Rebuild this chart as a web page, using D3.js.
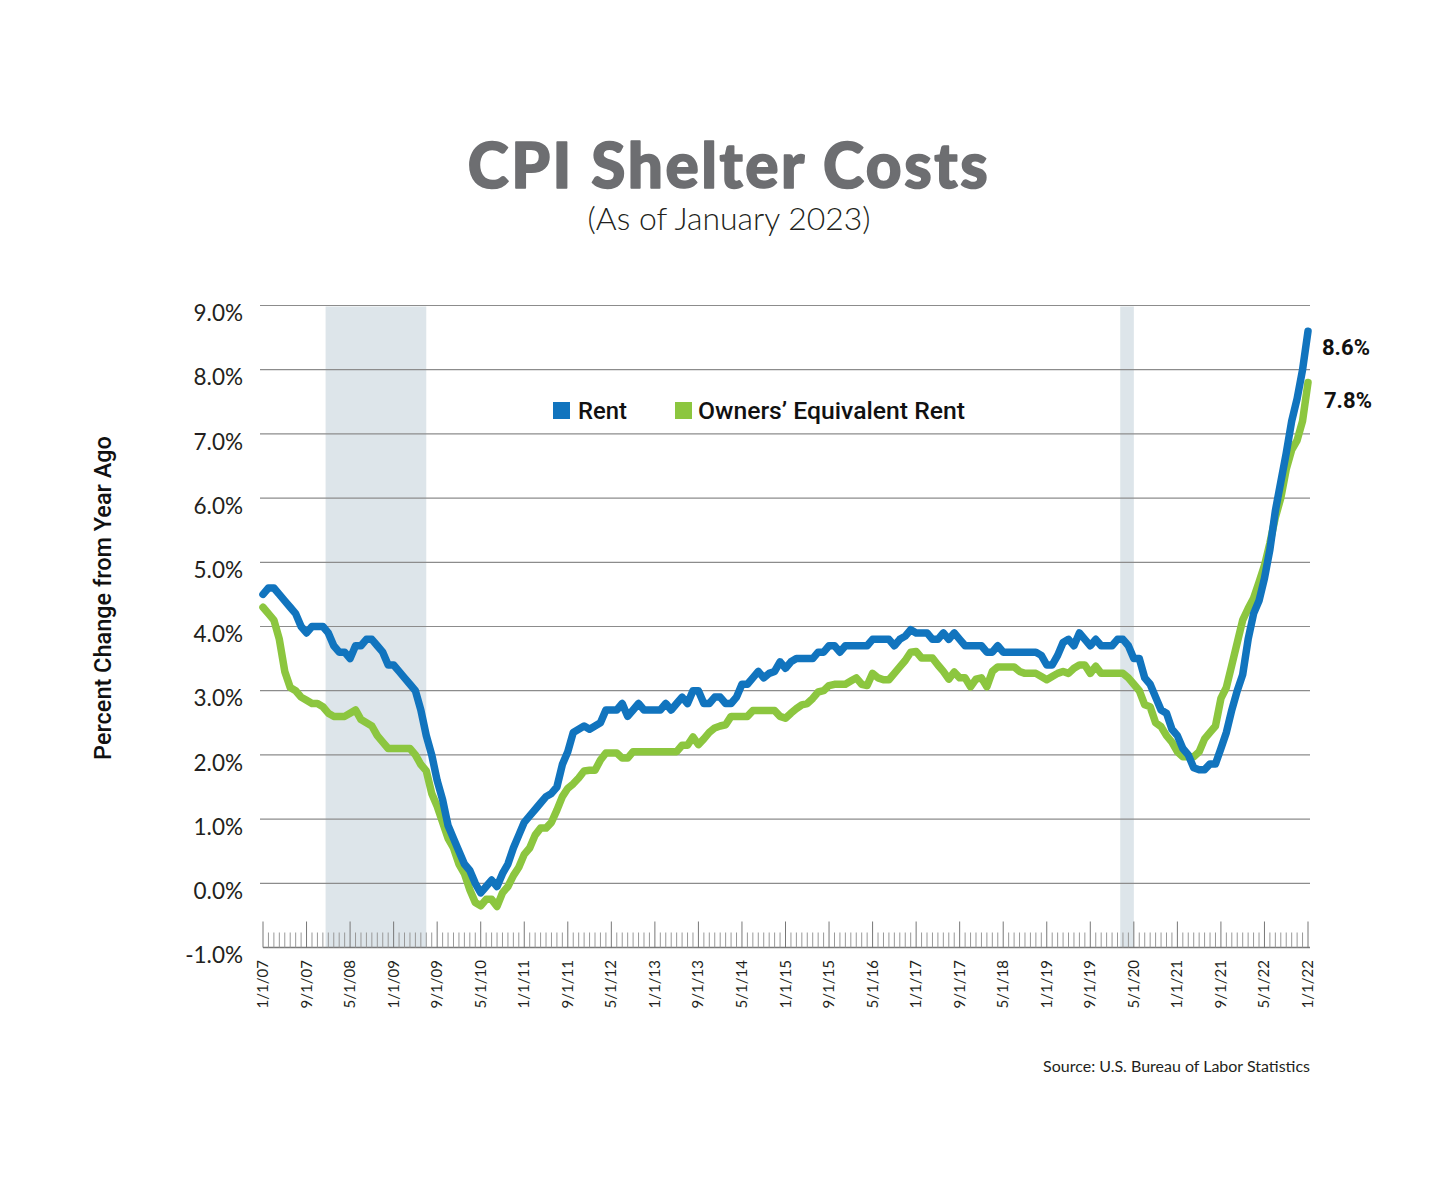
<!DOCTYPE html>
<html>
<head>
<meta charset="utf-8">
<script src="https://cdn.jsdelivr.net/npm/d3@7"></script>
<style>
  html, body { margin: 0; padding: 0; background: #fff; }
  svg { display: block; }
</style>
</head>
<body>
<svg id="chart" width="1450" height="1200"></svg>
<script>
// ---------------- DATA ----------------
const seriesNames = ["Rent", "Owners\u2019 Equivalent Rent"];

// Monthly YoY % change, Jan 2007 .. Jan 2023 (193 points)
const rent = [
  4.5, 4.6, 4.6, 4.5, 4.4, 4.3, 4.2, 4.0, 3.9, 4.0,
  4.0, 4.0, 3.9, 3.7, 3.6, 3.6, 3.5, 3.7, 3.7, 3.8,
  3.8, 3.7, 3.6, 3.4, 3.4, 3.3, 3.2, 3.1, 3.0, 2.7,
  2.3, 2.0, 1.6, 1.3, 0.9, 0.7, 0.5, 0.3, 0.2, 0.0,
  -0.15, -0.05, 0.05, -0.05, 0.15, 0.3, 0.55, 0.75, 0.95, 1.05,
  1.15, 1.25, 1.35, 1.4, 1.5, 1.85, 2.05, 2.35, 2.4, 2.45,
  2.4, 2.45, 2.5, 2.7, 2.7, 2.7, 2.8, 2.6, 2.7, 2.8,
  2.7, 2.7, 2.7, 2.7, 2.8, 2.7, 2.8, 2.9, 2.8, 3.0,
  3.0, 2.8, 2.8, 2.9, 2.9, 2.8, 2.8, 2.9, 3.1, 3.1,
  3.2, 3.3, 3.2, 3.27, 3.3, 3.45, 3.35, 3.45, 3.5, 3.5,
  3.5, 3.5, 3.6, 3.6, 3.7, 3.7, 3.6, 3.7, 3.7, 3.7,
  3.7, 3.7, 3.8, 3.8, 3.8, 3.8, 3.7, 3.8, 3.85, 3.95,
  3.9, 3.9, 3.9, 3.8, 3.8, 3.9, 3.8, 3.9, 3.8, 3.7,
  3.7, 3.7, 3.7, 3.6, 3.6, 3.7, 3.6, 3.6, 3.6, 3.6,
  3.6, 3.6, 3.6, 3.55, 3.4, 3.4, 3.55, 3.75, 3.8, 3.7,
  3.9, 3.8, 3.7, 3.8, 3.7, 3.7, 3.7, 3.8, 3.8, 3.7,
  3.5, 3.5, 3.2, 3.1, 2.9, 2.7, 2.65, 2.4, 2.3, 2.1,
  2.0, 1.8, 1.77, 1.77, 1.86, 1.86, 2.1, 2.35, 2.7, 3.0,
  3.25, 3.8, 4.2, 4.4, 4.75, 5.2, 5.8, 6.25, 6.7, 7.2,
  7.55, 8.0, 8.6
];

const oer = [
  4.3, 4.2, 4.1, 3.8, 3.3, 3.05, 3.0, 2.9, 2.85, 2.8,
  2.8, 2.75, 2.65, 2.6, 2.6, 2.6, 2.65, 2.7, 2.55, 2.5,
  2.45, 2.3, 2.2, 2.1, 2.1, 2.1, 2.1, 2.1, 2.0, 1.85,
  1.75, 1.4, 1.2, 0.95, 0.7, 0.55, 0.3, 0.15, -0.1, -0.3,
  -0.35, -0.25, -0.25, -0.36, -0.15, -0.05, 0.12, 0.25, 0.45, 0.55,
  0.75, 0.86, 0.86, 0.95, 1.14, 1.35, 1.48, 1.55, 1.64, 1.75,
  1.76, 1.76, 1.92, 2.03, 2.03, 2.03, 1.95, 1.95, 2.05, 2.05,
  2.05, 2.05, 2.05, 2.05, 2.05, 2.05, 2.05, 2.15, 2.15, 2.28,
  2.16, 2.25, 2.35, 2.42, 2.45, 2.47, 2.6, 2.6, 2.6, 2.6,
  2.69, 2.69, 2.69, 2.69, 2.69, 2.6, 2.57, 2.65, 2.72, 2.78,
  2.8, 2.88, 2.98, 3.0, 3.08, 3.1, 3.1, 3.1, 3.15, 3.2,
  3.1, 3.08, 3.27, 3.2, 3.17, 3.17, 3.27, 3.37, 3.47, 3.6,
  3.61, 3.51, 3.51, 3.51, 3.4, 3.3, 3.18, 3.29, 3.2, 3.2,
  3.06, 3.18, 3.2, 3.06, 3.3, 3.37, 3.37, 3.37, 3.37, 3.3,
  3.27, 3.27, 3.27, 3.22, 3.17, 3.22, 3.27, 3.3, 3.27, 3.35,
  3.4, 3.4, 3.27, 3.38, 3.27, 3.27, 3.27, 3.27, 3.27, 3.2,
  3.1, 3.0, 2.78, 2.75, 2.5, 2.44, 2.3, 2.2, 2.05, 1.97,
  1.97, 1.97, 2.05, 2.25, 2.35, 2.45, 2.88, 3.05, 3.4, 3.75,
  4.1, 4.28, 4.44, 4.69, 4.95, 5.3, 5.7, 6.0, 6.45, 6.75,
  6.9, 7.2, 7.8
];

// x-axis labels (one every 8 months, as printed on the original)
const xTickLabels = [
  "1/1/07","9/1/07","5/1/08","1/1/09","9/1/09","5/1/10","1/1/11","9/1/11",
  "5/1/12","1/1/13","9/1/13","5/1/14","1/1/15","9/1/15","5/1/16","1/1/17",
  "9/1/17","5/1/18","1/1/19","9/1/19","5/1/20","1/1/21","9/1/21","5/1/22","1/1/22"
];
const yTicks = [-1, 0, 1, 2, 3, 4, 5, 6, 7, 8, 9];

// Recessions, as month indexes from Jan 2007 (Dec 2007 - Jun 2009, Feb 2020 - Apr 2020)
const recessions = [[11, 29], [157, 159]];

const endLabels = ["8.6%", "7.8%"];

// ---------------- CHART ----------------
const svg = d3.select("#chart");
const colors = ["#1174be", "#8cc63f"];
const nMonths = rent.length - 1;

const x = d3.scaleLinear().domain([0, nMonths]).range([263, 1308]);
const y = d3.scaleLinear().domain([-1, 9]).range([947.5, 305.5]);

function fitWidth(sel, target) {
  const node = sel.node();
  const w = node.getComputedTextLength();
  const fs = parseFloat(sel.attr("font-size"));
  if (w > 0) sel.attr("font-size", (fs * target / w).toFixed(2));
}
function fitSpacing(sel, target) {
  const node = sel.node();
  const w = node.getComputedTextLength();
  const n = sel.text().length;
  if (w > 0 && n > 1) sel.attr("letter-spacing", ((target - w) / (n - 1)).toFixed(2));
}

// Title
const title = svg.append("text")
  .attr("x", 729).attr("y", 188)
  .attr("text-anchor", "middle")
  .attr("font-family", "Lato, 'Open Sans', sans-serif")
  .attr("font-weight", 900)
  .attr("font-size", 62)
  .attr("fill", "#6d6e71")
  .attr("stroke", "#6d6e71")
  .attr("stroke-width", 1.6)
  .attr("stroke-linejoin", "round")
  .text("CPI Shelter Costs");
fitSpacing(title, 520);

const sub = svg.append("text")
  .attr("x", 729).attr("y", 230)
  .attr("text-anchor", "middle")
  .attr("font-family", "Lato, 'Open Sans', sans-serif")
  .attr("font-weight", 300)
  .attr("font-size", 30)
  .attr("fill", "#231f20")
  .text("(As of January 2023)");
fitWidth(sub, 283);

// Recession shading
svg.append("g").selectAll("rect").data(recessions).join("rect")
  .attr("x", d => x(d[0] + 0.5))
  .attr("width", d => x(d[1] + 1) - x(d[0] + 0.5))
  .attr("y", y(9) + 1)
  .attr("height", y(-1) - y(9) - 1)
  .attr("fill", "#dde5ea");

// Gridlines
svg.append("g").selectAll("line").data(yTicks.filter(v => v > -1)).join("line")
  .attr("x1", 260).attr("x2", 1310)
  .attr("y1", d => y(d)).attr("y2", d => y(d))
  .attr("stroke", "#8c8c8c").attr("stroke-width", 1.2);

// Y tick labels
svg.append("g").selectAll("text").data(yTicks).join("text")
  .attr("x", 243).attr("y", d => y(d) + 10)
  .attr("text-anchor", "end")
  .attr("dominant-baseline", "middle")
  .attr("font-family", "Lato, 'Open Sans', sans-serif")
  .attr("font-size", 22.5)
  .attr("fill", "#231f20")
  .text(d => d.toFixed(1) + "%");

// Y axis title
const yTitle = svg.append("text")
  .attr("transform", "translate(111,598) rotate(-90)")
  .attr("text-anchor", "middle")
  .attr("font-family", "Roboto, 'Open Sans', sans-serif")
  .attr("font-weight", 500)
  .attr("font-size", 22)
  .attr("fill", "#111")
  .text("Percent Change from Year Ago");
fitWidth(yTitle, 324);

// X axis: baseline + monthly minor ticks + major ticks every 8 months
const axisG = svg.append("g").attr("transform", `translate(0,${y(-1)})`);
axisG.append("line")
  .attr("x1", 263).attr("x2", 1310).attr("y1", 0).attr("y2", 0)
  .attr("stroke", "#7a7a7a").attr("stroke-width", 1.5);
axisG.selectAll("line.minor").data(d3.range(0, nMonths + 1)).join("line")
  .attr("class", "minor")
  .attr("x1", d => x(d)).attr("x2", d => x(d))
  .attr("y1", d => d % 8 === 0 ? -26 : -15).attr("y2", 0)
  .attr("stroke", d => d % 8 === 0 ? "#777" : "#999")
  .attr("stroke-width", 1);

// X tick labels
svg.append("g").selectAll("text").data(xTickLabels).join("text")
  .attr("transform", (d, i) => `translate(${x(i * 8) + 5},960) rotate(-90)`)
  .attr("text-anchor", "end")
  .attr("font-family", "Lato, 'Open Sans', sans-serif")
  .attr("font-size", 15)
  .attr("fill", "#231f20")
  .text(d => d);

// Lines
const line = d3.line().x((d, i) => x(i)).y(d => y(d)).curve(d3.curveLinear);
[oer, rent].forEach((s, k) => {
  svg.append("path")
    .datum(s)
    .attr("d", line)
    .attr("fill", "none")
    .attr("stroke", k === 0 ? colors[1] : colors[0])
    .attr("stroke-width", 7.5)
    .attr("stroke-linejoin", "round")
    .attr("stroke-linecap", "round");
});

// End labels
const endVals = [rent[rent.length - 1], oer[oer.length - 1]];
endLabels.forEach((t, k) => {
  svg.append("text")
    .attr("x", k === 0 ? 1322 : 1324)
    .attr("y", y(endVals[k]) + (k === 0 ? 24 : 25))
    .attr("font-family", "Roboto, 'Open Sans', sans-serif")
    .attr("font-weight", 700)
    .attr("font-size", 22)
    .attr("fill", "#111")
    .text(t);
});

// Legend
const legendItems = [
  { name: seriesNames[0], color: colors[0], sx: 553, tx: 578, w: 49 },
  { name: seriesNames[1], color: colors[1], sx: 675, tx: 698, w: 267 }
];
legendItems.forEach(it => {
  svg.append("rect").attr("x", it.sx).attr("y", 402).attr("width", 17).attr("height", 17)
    .attr("fill", it.color);
  const t = svg.append("text").attr("x", it.tx).attr("y", 419)
    .attr("font-family", "Roboto, 'Open Sans', sans-serif")
    .attr("font-weight", 500)
    .attr("font-size", 22)
    .attr("fill", "#111")
    .text(it.name);
  fitWidth(t, it.w);
});

// Source
const src = svg.append("text")
  .attr("x", 1310).attr("y", 1072)
  .attr("text-anchor", "end")
  .attr("font-family", "Lato, 'Open Sans', sans-serif")
  .attr("font-size", 15)
  .attr("fill", "#231f20")
  .text("Source: U.S. Bureau of Labor Statistics");
fitWidth(src, 267);
</script>
</body>
</html>
